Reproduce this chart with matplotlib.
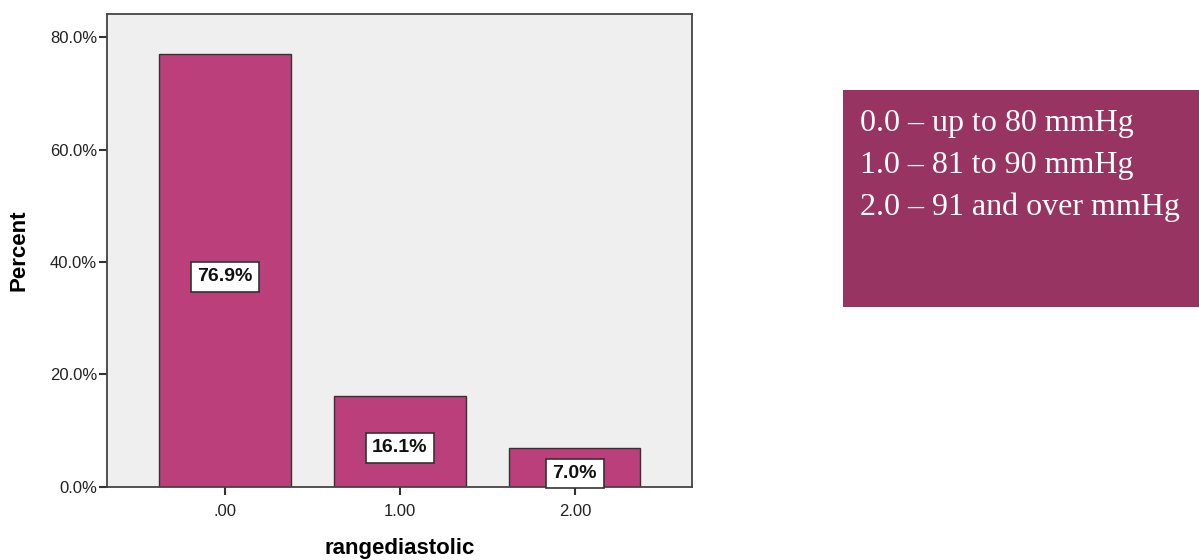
import matplotlib.pyplot as plt
import numpy as np

# data
categories = [".00", "1.00", "2.00"]
percents = [76.9, 16.1, 7.0]
legend_lines = ["0.0 \u2013 up to 80 mmHg",
                "1.0 \u2013 81 to 90 mmHg",
                "2.0 \u2013 91 and over mmHg"]

bar_color = "#bb3f7b"
box_color = "#983462"

plt.rcParams["font.family"] = ["Liberation Sans", "DejaVu Sans"]

fig = plt.figure(figsize=(11.99, 5.6), dpi=100)
ax = fig.add_axes([0.0892, 0.1304, 0.4879, 0.8446])
ax.set_facecolor("#efefef")

x = np.arange(len(categories))
ax.bar(x, percents, width=0.75, color=bar_color, edgecolor="#333333", linewidth=1.0)

# value labels in white boxes, at mid height of each bar
for xi, p in zip(x, percents):
    ax.annotate(f"{p:.1f}%", (xi, p / 2), xytext=(0, -3), textcoords="offset points",
                ha="center", va="center_baseline", fontsize=14, fontweight="bold",
                color="#111111",
                bbox=dict(boxstyle="square,pad=0.33", facecolor="white",
                          edgecolor="#333333", linewidth=1.2))

ax.set_xlim(-0.674, 2.669)
ax.set_ylim(0, 84.1)
ax.set_xticks(x, categories)
ax.set_yticks([0, 20, 40, 60, 80])
ax.set_yticklabels([f"{v:.1f}%" for v in [0, 20, 40, 60, 80]])
ax.tick_params(axis="both", direction="out", length=6, width=1.5,
               color="#333333", labelsize=12, labelcolor="#222222")
ax.tick_params(axis="x", pad=6)
ax.tick_params(axis="y", pad=1)
for s in ax.spines.values():
    s.set_color("#444444")
    s.set_linewidth(1.3)

ax.set_ylabel("Percent", fontsize=16, fontweight="bold", labelpad=15)
ax.set_xlabel("rangediastolic", fontsize=16, fontweight="bold", labelpad=14)

# description box on the right
fig.patches.append(plt.Rectangle((843 / 1199, 1 - 307 / 560), 356 / 1199, 217 / 560,
                                 transform=fig.transFigure, facecolor=box_color,
                                 edgecolor="none"))
for i, line in enumerate(legend_lines):
    fig.text(860 / 1199, 1 - (131 + i * 42) / 560, line, fontsize=23,
             family=["Liberation Serif", "DejaVu Serif"], color="white",
             ha="left", va="baseline")

fig.savefig("out.png", dpi=100)
